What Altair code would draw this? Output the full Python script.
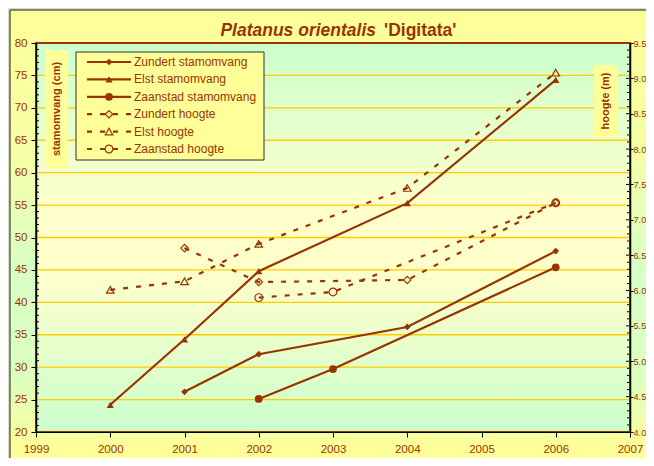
import altair as alt
import pandas as pd

BROWN = "#993300"
FONT = "Liberation Sans"

# ---------------- data ----------------
years_zundert = [2001, 2002, 2004, 2006]
zundert_cm = [26.2, 32.0, 36.2, 47.9]
zundert_m = [6.60, 6.12, 6.15, 7.24]

years_elst = [2000, 2001, 2002, 2004, 2006]
elst_cm = [24.2, 34.3, 44.8, 55.3, 74.3]
elst_m = [6.01, 6.13, 6.66, 7.45, 9.08]

years_zaanstad = [2002, 2003, 2006]
zaanstad_cm = [25.1, 29.7, 45.4]
zaanstad_m = [5.90, 5.98, 7.24]

cm_names = ["Zundert stamomvang", "Elst stamomvang", "Zaanstad stamomvang"]
m_names = ["Zundert hoogte", "Elst hoogte", "Zaanstad hoogte"]
series_names = cm_names + m_names
legend_styles = ["solid", "solid", "solid", "dash", "dash", "dash"]

x_ticks = [1999, 2000, 2001, 2002, 2003, 2004, 2005, 2006, 2007]
cm_ticks = [20, 25, 30, 35, 40, 45, 50, 55, 60, 65, 70, 75, 80]
cm_grid = [25, 30, 35, 40, 45, 50, 55, 60, 65, 70, 75]
m_ticks = [4.0, 4.5, 5.0, 5.5, 6.0, 6.5, 7.0, 7.5, 8.0, 8.5, 9.0, 9.5]
cm_minor = [v for v in range(20, 81) if v % 5 != 0]
m_minor = [round(4.0 + 0.1 * i, 1) for i in range(56) if i % 5 != 0]

title_main = "Platanus orientalis"
title_cultivar = "'Digitata'"
y_left_title = "stamomvang (cm)"
y_right_title = "hoogte (m)"

# ---------------- tables ----------------
def long(names, years_list, values_list):
    rows = []
    for n, ys, vs in zip(names, years_list, values_list):
        for y, v in zip(ys, vs):
            rows.append({"series": n, "year": y, "value": v})
    return pd.DataFrame(rows)

cm_df = long(cm_names, [years_zundert, years_elst, years_zaanstad],
             [zundert_cm, elst_cm, zaanstad_cm])
m_df = long(m_names, [years_zundert, years_elst, years_zaanstad],
            [zundert_m, elst_m, zaanstad_m])

one = pd.DataFrame({"a": [0]})

W, H = 594, 389

x_scale = alt.Scale(domain=[1999, 2007], nice=False, zero=False)
x_axis = alt.Axis(values=x_ticks, format="d", title=None, grid=False, orient="bottom",
                  labelColor=BROWN, labelFont=FONT, labelFontSize=11.5, labelFlush=False,
                  labelPadding=6, tickSize=5, tickColor="black", domainColor="black",
                  domainWidth=1, zindex=1)
x_enc = alt.X("year:Q", scale=x_scale, axis=x_axis)

cm_scale = alt.Scale(domain=[20, 80], nice=False, zero=False)
cm_axis = alt.Axis(values=cm_ticks, title=None, grid=False, orient="left",
                   labelColor=BROWN, labelFont=FONT, labelFontSize=11.5,
                   labelPadding=4, tickSize=5, tickColor="black", domainColor="black",
                   domainWidth=1.5, zindex=1, labelFlush=False)
y_cm = alt.Y("value:Q", scale=cm_scale, axis=cm_axis)

m_scale = alt.Scale(domain=[4.0, 9.5], nice=False, zero=False)
m_axis = alt.Axis(values=m_ticks, format=".1f", title=None, grid=False, orient="right",
                  labelColor=BROWN, labelFont=FONT, labelFontSize=9.2,
                  labelPadding=0, tickSize=3, tickColor="black", domainColor="black",
                  domainWidth=1.5, zindex=1, labelFlush=False)
y_m = alt.Y("value:Q", scale=m_scale, axis=m_axis)

# ---------------- backgrounds ----------------
chart_bg = alt.Chart(one).mark_rect(
    fill={"gradient": "linear", "x1": 0, "y1": 0, "x2": 0, "y2": 1,
          "stops": [{"offset": 0, "color": "#ffff99"},
                    {"offset": 0.3, "color": "#f6ffa6"},
                    {"offset": 0.55, "color": "#d8ffc6"},
                    {"offset": 0.78, "color": "#dcffc0"},
                    {"offset": 0.93, "color": "#ffff99"},
                    {"offset": 1, "color": "#ffff99"}]},
    stroke="#202020", strokeWidth=1
).encode(x=alt.value(-26), x2=alt.value(700), y=alt.value(-33), y2=alt.value(440))

plot_bg = alt.Chart(one).mark_rect(
    fill={"gradient": "linear", "x1": 0, "y1": 0, "x2": 0, "y2": 1,
          "stops": [{"offset": 0, "color": "#ccffcc"},
                    {"offset": 0.42, "color": "#ffffcc"},
                    {"offset": 0.58, "color": "#ffffcc"},
                    {"offset": 1, "color": "#ccffcc"}]}
).encode(x=alt.value(0), x2=alt.value(W), y=alt.value(0), y2=alt.value(H))

# ---------------- cm group ----------------
grid = alt.Chart(pd.DataFrame({"value": cm_grid})).mark_rule(
    color="#ffcc00", strokeWidth=1.3
).encode(y=y_cm, x=alt.value(0), x2=alt.value(W))

cm_minor_layer = alt.Chart(pd.DataFrame({"value": cm_minor})).mark_rule(
    color="black", strokeWidth=1
).encode(y=y_cm, x=alt.value(0), x2=alt.value(3))

cm_lines = alt.Chart(cm_df).mark_line(color=BROWN, strokeWidth=2.2).encode(
    x=x_enc, y=y_cm, detail="series:N")

cm_points = alt.Chart(cm_df).mark_point(filled=True, color=BROWN, opacity=1).encode(
    x=x_enc, y=y_cm,
    shape=alt.Shape("series:N", scale=alt.Scale(domain=cm_names,
                    range=["diamond", "triangle-up", "circle"]), legend=None),
    size=alt.Size("series:N", scale=alt.Scale(domain=cm_names, range=[45, 60, 40]),
                  legend=None))

cm_group = alt.layer(grid, cm_minor_layer, cm_lines, cm_points)

# ---------------- m group ----------------
m_minor_layer = alt.Chart(pd.DataFrame({"value": m_minor})).mark_rule(
    color="black", strokeWidth=1
).encode(y=y_m, x=alt.value(W - 3), x2=alt.value(W))

m_major_inner = alt.Chart(pd.DataFrame({"value": m_ticks})).mark_rule(
    color="black", strokeWidth=1
).encode(y=y_m, x=alt.value(W - 4), x2=alt.value(W))

m_lines = alt.Chart(m_df).mark_line(color=BROWN, strokeWidth=2.2, strokeDash=[5, 8]).encode(
    x=x_enc, y=y_m, detail="series:N")

m_points = alt.Chart(m_df).mark_point(filled=False, color=BROWN, opacity=1,
                                      strokeWidth=1.2).encode(
    x=x_enc, y=y_m,
    shape=alt.Shape("series:N", scale=alt.Scale(domain=m_names,
                    range=["diamond", "triangle-up", "circle"]), legend=None),
    size=alt.Size("series:N", scale=alt.Scale(domain=m_names, range=[55, 60, 40]),
                  legend=None))

m_group = alt.layer(m_minor_layer, m_major_inner, m_lines, m_points)

# ---------------- border ----------------
border = alt.Chart(one).mark_rect(fill=None, stroke=BROWN, strokeWidth=2).encode(
    x=alt.value(0), x2=alt.value(W), y=alt.value(0), y2=alt.value(H))

# ---------------- axis title boxes ----------------
ltitle_box = alt.Chart(one).mark_rect(fill="#ffff99").encode(
    x=alt.value(9), x2=alt.value(32), y=alt.value(7), y2=alt.value(125))
ltitle = alt.Chart(one).mark_text(
    text=y_left_title, angle=270, font=FONT, fontSize=11, fontWeight="bold",
    color=BROWN, align="center", baseline="middle"
).encode(x=alt.value(21), y=alt.value(66))

rtitle_box = alt.Chart(one).mark_rect(fill="#ffff99").encode(
    x=alt.value(558), x2=alt.value(582), y=alt.value(22), y2=alt.value(94))
rtitle = alt.Chart(one).mark_text(
    text=y_right_title, angle=270, font=FONT, fontSize=11, fontWeight="bold",
    color=BROWN, align="center", baseline="middle"
).encode(x=alt.value(570), y=alt.value(58))

# ---------------- chart title ----------------
t1 = alt.Chart(one).mark_text(
    text=title_main, font=FONT, fontSize=17.5, fontWeight="bold", fontStyle="italic",
    color=BROWN, align="right", baseline="middle"
).encode(x=alt.value(340), y=alt.value(-12))
t2 = alt.Chart(one).mark_text(
    text=title_cultivar, font=FONT, fontSize=17.5, fontWeight="bold",
    color=BROWN, align="left", baseline="middle"
).encode(x=alt.value(348), y=alt.value(-12))

# ---------------- legend ----------------
leg_df = pd.DataFrame({"series": series_names, "idx": list(range(6)),
                       "style": legend_styles})
leg_base = alt.Chart(leg_df).transform_calculate(py="19 + datum.idx * 17.4")

leg_box = alt.Chart(one).mark_rect(fill="#ffff99", stroke="#303030", strokeWidth=1).encode(
    x=alt.value(40), x2=alt.value(228), y=alt.value(9), y2=alt.value(117))

leg_lines = leg_base.mark_rule(color=BROWN, strokeWidth=2.2).encode(
    y=alt.Y("py:Q", scale=None, axis=None), x=alt.value(51), x2=alt.value(95),
    strokeDash=alt.StrokeDash("style:N", scale=alt.Scale(domain=["solid", "dash"],
                              range=[[1, 0], [5, 8]]), legend=None))

leg_pts_f = leg_base.transform_filter(alt.datum.idx < 3).mark_point(
    filled=True, color=BROWN, opacity=1).encode(
    y=alt.Y("py:Q", scale=None, axis=None), x=alt.value(73),
    shape=alt.Shape("series:N", scale=alt.Scale(domain=cm_names,
                    range=["diamond", "triangle-up", "circle"]), legend=None),
    size=alt.Size("series:N", scale=alt.Scale(domain=cm_names, range=[45, 60, 40]),
                  legend=None))

leg_pts_o = leg_base.transform_filter(alt.datum.idx >= 3).mark_point(
    filled=False, color=BROWN, opacity=1, strokeWidth=1.2).encode(
    y=alt.Y("py:Q", scale=None, axis=None), x=alt.value(73),
    shape=alt.Shape("series:N", scale=alt.Scale(domain=m_names,
                    range=["diamond", "triangle-up", "circle"]), legend=None),
    size=alt.Size("series:N", scale=alt.Scale(domain=m_names, range=[55, 60, 40]),
                  legend=None))

leg_text = leg_base.mark_text(font=FONT, fontSize=12, color=BROWN, align="left",
                              baseline="middle").encode(
    y=alt.Y("py:Q", scale=None, axis=None), x=alt.value(98), text="series:N")

chart = alt.layer(
    chart_bg, plot_bg, cm_group, m_group, border,
    ltitle_box, ltitle, rtitle_box, rtitle, t1, t2,
    leg_box, leg_lines, leg_pts_f, leg_pts_o, leg_text
).resolve_scale(y="independent", shape="independent", size="independent",
                strokeDash="independent").properties(
    width=W, height=H,
    autosize=alt.AutoSizeParams(type="none"),
    padding={"left": 28, "top": 35, "right": 16, "bottom": 26}
).configure(background="#d8dfc2").configure_view(stroke=None)

chart.save("out.html", embed_options={"renderer": "svg", "actions": False})
